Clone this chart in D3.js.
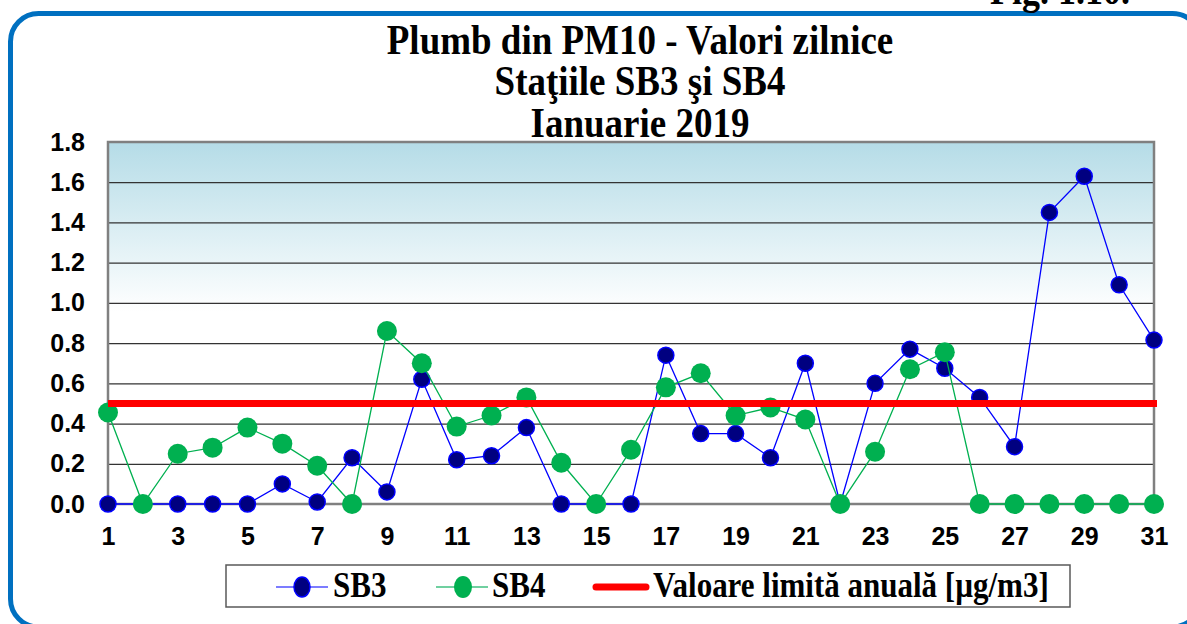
<!DOCTYPE html>
<html>
<head>
<meta charset="utf-8">
<script src="https://cdn.jsdelivr.net/npm/d3@7"></script>
<style>
  html, body { margin: 0; padding: 0; background: #fff; overflow: hidden; }
  svg { display: block; }
  .serif { font-family: "Liberation Serif", "Times New Roman", serif; font-weight: bold; fill: #000; }
  .tick text { font-family: "Liberation Sans", Arial, sans-serif; font-weight: bold; font-size: 25px; fill: #000; }
</style>
</head>
<body>
<svg width="1187" height="624"></svg>
<script>
// daily lead values, January 2019 (µg/m3)
const days = d3.range(1, 32);
const sb3 = [0, 0, 0, 0, 0, 0.10, 0.01, 0.23, 0.06, 0.62,
             0.22, 0.24, 0.38, 0, 0, 0, 0.74, 0.35, 0.35, 0.23,
             0.70, 0, 0.60, 0.77, 0.675, 0.53, 0.285, 1.45, 1.63, 1.09, 0.815];
const sb4 = [0.455, 0, 0.25, 0.28, 0.38, 0.30, 0.19, 0, 0.86, 0.70,
             0.385, 0.44, 0.53, 0.205, 0, 0.27, 0.58, 0.65, 0.44, 0.48,
             0.42, 0, 0.26, 0.67, 0.755, 0, 0, 0, 0, 0, 0];
const limitValue = 0.5;
const yTicks = [0, 0.2, 0.4, 0.6, 0.8, 1.0, 1.2, 1.4, 1.6, 1.8];
const xTicks = [1, 3, 5, 7, 9, 11, 13, 15, 17, 19, 21, 23, 25, 27, 29, 31];
const titleLines = ['Plumb din PM10 - Valori zilnice', 'Staţiile SB3 şi SB4', 'Ianuarie 2019'];

const svg = d3.select('svg');

const pLeft = 108, pRight = 1154, pTop = 142, pBottom = 504;

const x = d3.scaleLinear().domain([1, 31]).range([pLeft, pRight]);
const y = d3.scaleLinear().domain([0, 1.8]).range([pBottom, pTop]);

// outer blue frame
svg.append('rect')
  .attr('x', 10.5).attr('y', 13.5)
  .attr('width', 1190).attr('height', 613.5)
  .attr('rx', 28).attr('ry', 28)
  .attr('fill', 'none')
  .attr('stroke', '#0070C0')
  .attr('stroke-width', 5);

// figure number, cut at the top like in the page it came from
svg.append('text')
  .attr('class', 'serif')
  .attr('transform', 'translate(990,4) scale(1,1.12)')
  .attr('font-size', 36)
  .text('Fig. 1.10.');

// title
svg.append('g').selectAll('text')
  .data(titleLines)
  .join('text')
  .attr('class', 'serif')
  .attr('text-anchor', 'middle')
  .attr('font-size', 37)
  .attr('transform', (d, i) => `translate(640,${53.5 + i * 41.5}) scale(1,1.12)`)
  .text(d => d);

// plot background gradient
const defs = svg.append('defs');
const grad = defs.append('linearGradient')
  .attr('id', 'bg').attr('x1', 0).attr('y1', 0).attr('x2', 0).attr('y2', 1);
grad.append('stop').attr('offset', 0).attr('stop-color', '#B5DCE7');
grad.append('stop').attr('offset', 0.47).attr('stop-color', '#FFFFFF');
grad.append('stop').attr('offset', 1).attr('stop-color', '#FFFFFF');

svg.append('rect')
  .attr('x', pLeft).attr('y', pTop)
  .attr('width', pRight - pLeft).attr('height', pBottom - pTop)
  .attr('fill', 'url(#bg)');

// gridlines
svg.append('g')
  .attr('transform', `translate(${pLeft},0)`)
  .call(d3.axisLeft(y).tickValues(yTicks.slice(1, -1)).tickSize(-(pRight - pLeft)).tickFormat(''))
  .call(g => g.select('.domain').remove())
  .call(g => g.selectAll('line').attr('stroke', '#333').attr('stroke-width', 1.2));

// plot border
svg.append('rect')
  .attr('x', pLeft).attr('y', pTop)
  .attr('width', pRight - pLeft).attr('height', pBottom - pTop)
  .attr('fill', 'none')
  .attr('stroke', '#808080')
  .attr('stroke-width', 2.5);

// axes labels
svg.append('g')
  .attr('transform', `translate(${pLeft},0)`)
  .call(d3.axisLeft(y).tickValues(yTicks).tickSize(0).tickPadding(23).tickFormat(d3.format('.1f')))
  .call(g => g.select('.domain').remove());

svg.append('g')
  .attr('transform', `translate(0,${pBottom})`)
  .call(d3.axisBottom(x).tickValues(xTicks).tickSize(0).tickPadding(23).tickFormat(d3.format('d')))
  .call(g => g.select('.domain').remove());

// series
const line = d3.line().x((d, i) => x(days[i])).y(d => y(d));

svg.append('path')
  .datum(sb3)
  .attr('d', line)
  .attr('fill', 'none')
  .attr('stroke', '#0000FF')
  .attr('stroke-width', 1.3);

svg.append('g').selectAll('circle')
  .data(sb3)
  .join('circle')
  .attr('cx', (d, i) => x(days[i]))
  .attr('cy', d => y(d))
  .attr('r', 8)
  .attr('fill', '#000080')
  .attr('stroke', '#0000FF')
  .attr('stroke-width', 1.5);

svg.append('path')
  .datum(sb4)
  .attr('d', line)
  .attr('fill', 'none')
  .attr('stroke', '#00B050')
  .attr('stroke-width', 1.3);

svg.append('g').selectAll('circle')
  .data(sb4)
  .join('circle')
  .attr('cx', (d, i) => x(days[i]))
  .attr('cy', d => y(d))
  .attr('r', 10)
  .attr('fill', '#00B050');

// annual limit value
svg.append('line')
  .attr('x1', x(1)).attr('x2', x(31) + 3)
  .attr('y1', y(limitValue)).attr('y2', y(limitValue))
  .attr('stroke', '#FF0000')
  .attr('stroke-width', 7);

// legend
const lg = svg.append('g');
lg.append('rect')
  .attr('x', 226).attr('y', 565)
  .attr('width', 844).attr('height', 42)
  .attr('fill', '#fff')
  .attr('stroke', '#595959')
  .attr('stroke-width', 1.5);

const ly = 587;
lg.append('line').attr('x1', 276).attr('x2', 328).attr('y1', ly).attr('y2', ly)
  .attr('stroke', '#5050FF').attr('stroke-width', 1.5);
lg.append('ellipse').attr('cx', 302).attr('cy', ly).attr('rx', 8).attr('ry', 10)
  .attr('fill', '#000080').attr('stroke', '#0000FF').attr('stroke-width', 1.5);
lg.append('line').attr('x1', 436).attr('x2', 488).attr('y1', ly).attr('y2', ly)
  .attr('stroke', '#40C080').attr('stroke-width', 1.5);
lg.append('ellipse').attr('cx', 463).attr('cy', ly).attr('rx', 9).attr('ry', 11)
  .attr('fill', '#00B050');
lg.append('line').attr('x1', 596).attr('x2', 646).attr('y1', ly).attr('y2', ly)
  .attr('stroke', '#FF0000').attr('stroke-width', 7).attr('stroke-linecap', 'round');

const legendText = [['SB3', 333], ['SB4', 492], ['Valoare limită anuală [µg/m3]', 653]];
lg.selectAll('text.lt')
  .data(legendText)
  .join('text')
  .attr('class', 'serif lt')
  .attr('font-size', 31)
  .attr('transform', d => `translate(${d[1]},597) scale(1,1.13)`)
  .text(d => d[0]);
</script>
</body>
</html>
